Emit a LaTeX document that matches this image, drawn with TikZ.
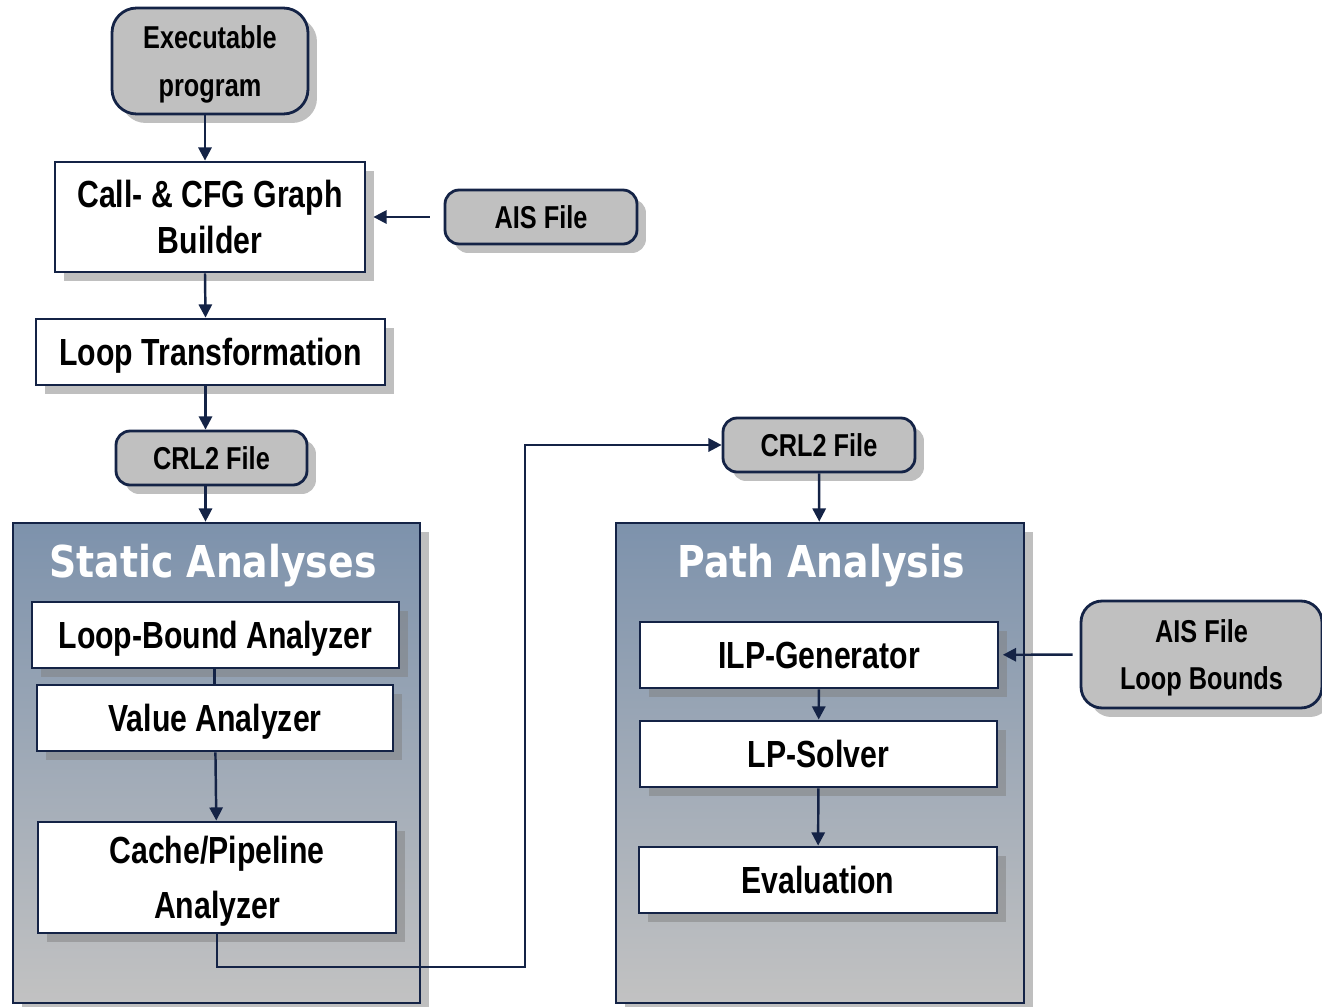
\documentclass[tikz,border=0pt]{standalone}
\usepackage{fontspec}
\usepackage{tikz}
\usetikzlibrary{arrows.meta, positioning, calc, shadows}
\newfontfamily\boxfont[FakeStretch=0.8]{Liberation Sans}
\newfontfamily\titlefont[FakeStretch=0.86]{DejaVu Sans}
\definecolor{framenavy}{RGB}{20,35,70}
\definecolor{filegray}{RGB}{192,192,192}
\definecolor{grouptop}{RGB}{125,146,172}
\definecolor{groupbottom}{RGB}{194,194,194}

\tikzset{
  shade/.style={drop shadow={shadow xshift=0.18cm, shadow yshift=-0.18cm}},
  filebox/.style={draw=framenavy, line width=1.6pt, fill=filegray, rounded corners=8pt, shade,
    inner sep=0pt, text depth=0pt, align=center, font=\boxfont\bfseries\fontsize{18}{27}\selectfont},
  toolbox/.style={draw=framenavy, line width=1.6pt, fill=white, shade,
    inner sep=0pt, text depth=0pt, align=center, font=\boxfont\bfseries\fontsize{21.5}{26}\selectfont},
  groupbox/.style={draw=framenavy, line width=1.6pt, top color=grouptop, bottom color=groupbottom,
    shade, inner sep=0pt, minimum width=8.14cm, minimum height=9.6cm},
  grouptitle/.style={text=white, font=\titlefont\bfseries\fontsize{25}{30}\selectfont},
  arr/.style={draw=framenavy, line width=1.4pt, -{Triangle[length=7.5pt,width=7.5pt]}},
}

\begin{document}
\begin{tikzpicture}[x=0.02cm, y=-0.02cm]
    \useasboundingbox (0,0) rectangle (1322,1007);

    % group boxes
    \node[groupbox] (static) at (216.5,763) {};
    \node[grouptitle] (statictitle) at (213,566) {Static Analyses};
    \node[groupbox, minimum width=8.16cm] (path) at (820,763) {};
    \node[grouptitle] (pathtitle) at (821,566) {Path Analysis};

    % left column
    \node[filebox, rounded corners=14pt, minimum width=3.92cm, minimum height=2.12cm] (exec) at (210,61) {Executable\\program};
    \node[toolbox, minimum width=6.2cm, minimum height=2.2cm] (cfg) at (210,217) {Call- \& CFG Graph\\Builder};
    \node[filebox, minimum width=3.84cm, minimum height=1.08cm] (ais) at (541,217) {AIS File};
    \node[toolbox, minimum width=6.98cm, minimum height=1.32cm] (loopt) at (210.5,352) {Loop Transformation};
    \node[filebox, minimum width=3.82cm, minimum height=1.08cm] (crlleft) at (211.5,458) {CRL2 File};

    % static analyses
    \node[toolbox, minimum width=7.34cm, minimum height=1.32cm] (loopbound) at (215.5,635) {Loop-Bound Analyzer};
    \node[toolbox, minimum width=7.12cm, minimum height=1.32cm] (value) at (215,718) {Value Analyzer};
    \node[toolbox, minimum width=7.16cm, minimum height=2.22cm] (cache) at (217,877.5) {Cache/Pipeline\\[5pt]Analyzer};

    % right column
    \node[filebox, minimum width=3.84cm, minimum height=1.08cm] (crlright) at (819,445) {CRL2 File};
    \node[toolbox, minimum width=7.16cm, minimum height=1.32cm] (ilp) at (819,655) {ILP-Generator};
    \node[toolbox, minimum width=7.14cm, minimum height=1.32cm] (lp) at (818.5,754) {LP-Solver};
    \node[toolbox, minimum width=7.16cm, minimum height=1.32cm] (eval) at (818,880) {Evaluation};
    \node[filebox, rounded corners=12pt, minimum width=4.82cm, minimum height=2.14cm] (aisloop) at (1201.5,654.5) {AIS File\\Loop Bounds};

    % connectors
    \draw[arr] ([xshift=-0.1cm]exec.south) -- ([xshift=-0.1cm]cfg.north);
    \draw[arr, shorten <=8pt, shorten >=4pt] (ais) -- (cfg);
    \draw[arr] ([xshift=-0.1cm]cfg.south) -- ([xshift=-0.1cm]loopt.north);
    \draw[arr] ([xshift=-0.1cm]loopt.south) -- ([xshift=-0.1cm]loopt.south |- crlleft.north);
    \draw[arr] ([xshift=-0.12cm]crlleft.south) -- ([xshift=-0.12cm]crlleft.south |- static.north);
    \draw[draw=framenavy, line width=1.4pt] ([xshift=-0.02cm]loopbound.south) -- ([xshift=-0.02cm]loopbound.south |- value.north);
    \draw[arr] (value) -- (cache);
    \coordinate (detour) at (525,967);
    \draw[arr] (cache.south) |- (detour) |- (crlright.west);
    \draw[arr] (crlright) -- (path);
    \draw[arr, shorten <=4pt, shorten >=2pt] (aisloop) -- (ilp);
    \draw[arr] (ilp) -- (lp);
    \draw[arr] (lp) -- (eval);
\end{tikzpicture}
\end{document}
